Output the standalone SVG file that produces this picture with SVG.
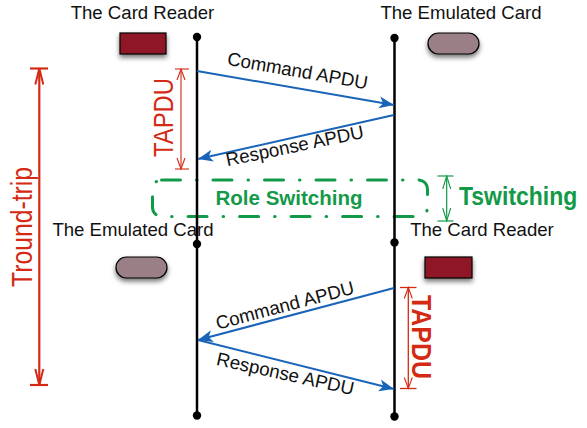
<svg xmlns="http://www.w3.org/2000/svg" width="587" height="428" viewBox="0 0 587 428">
  <style>
    .lbl { font-family: "Liberation Sans", Arial, sans-serif; font-size: 18.6px; fill: #111; }
    .msg { font-family: "Liberation Sans", Arial, sans-serif; font-size: 18.7px; fill: #111; }
    .life { stroke: #000; stroke-width: 2.5; fill: none; }
    .dot { fill: #000; }
    .arrow { stroke: #1a64b8; stroke-width: 2; fill: none; marker-end: url(#ah); }
    .reader { fill: #8e1428; stroke: #000; stroke-width: 1.2; filter: url(#sh); }
    .card { fill: #9a7f87; stroke: #000; stroke-width: 1.2; filter: url(#sh); }
    .red { stroke: #d42a14; fill: none; }
    .redtxt { font-family: "Liberation Sans", Arial, sans-serif; fill: #d42a14; }
    .green { stroke: #139a48; fill: none; }
    .greentxt { font-family: "Liberation Sans", Arial, sans-serif; font-weight: bold; fill: #139a48; }
  </style>
  <defs>
    <filter id="sh" x="-30%" y="-40%" width="160%" height="200%">
      <feDropShadow dx="0" dy="3" stdDeviation="2.5" flood-color="#000" flood-opacity="0.55"/>
    </filter>
    <marker id="ah" viewBox="-16 -7 18 14" refX="0" refY="0" markerWidth="18" markerHeight="14" markerUnits="userSpaceOnUse" orient="auto">
      <path d="M0,0 L-15,-6 L-11,0 L-15,6 Z" fill="#1a64b8"/>
    </marker>
    <marker id="vr" viewBox="-14 -6 16 12" refX="0" refY="0" markerWidth="16" markerHeight="12" markerUnits="userSpaceOnUse" orient="auto-start-reverse">
      <path d="M-11,-4 L0,0 L-11,4" fill="none" stroke="#d42a14" stroke-width="1.1"/>
    </marker>
    <marker id="vrb" viewBox="-19 -6 21 12" refX="0" refY="0" markerWidth="21" markerHeight="12" markerUnits="userSpaceOnUse" orient="auto-start-reverse">
      <path d="M-16,-4 L0,0 L-16,4" fill="none" stroke="#d42a14" stroke-width="2"/>
    </marker>
    <marker id="vg" viewBox="-16 -6 18 12" refX="0" refY="0" markerWidth="18" markerHeight="12" markerUnits="userSpaceOnUse" orient="auto-start-reverse">
      <path d="M-13,-4 L0,0 L-13,4" fill="none" stroke="#139a48" stroke-width="1.1"/>
    </marker>
  </defs>

  <rect width="587" height="428" fill="#fff"/>

  <!-- participants, first phase -->
  <g id="reader-top">
    <text class="lbl" x="142.5" y="19" text-anchor="middle">The Card Reader</text>
    <rect class="reader" x="120" y="33" width="46" height="21"/>
  </g>
  <g id="card-top">
    <text class="lbl" x="461" y="19" text-anchor="middle">The Emulated Card</text>
    <rect class="card" x="428" y="33" width="51" height="21" rx="10.5"/>
  </g>

  <!-- participants, second phase -->
  <g id="card-bottom">
    <text class="lbl" x="133" y="236" text-anchor="middle">The Emulated Card</text>
    <rect class="card" x="116" y="257" width="51" height="21" rx="10.5"/>
  </g>
  <g id="reader-bottom">
    <text class="lbl" x="482" y="236" text-anchor="middle">The Card Reader</text>
    <rect class="reader" x="425" y="257" width="47" height="21"/>
  </g>

  <!-- role switching phase -->
  <g id="role-switching">
    <rect x="152.5" y="180" width="275" height="36.5" rx="9" fill="none" stroke="#139a48" stroke-width="3" stroke-linecap="round" stroke-dasharray="19 16 0.5 16"/>
    <text class="greentxt" x="289" y="204.5" text-anchor="middle" font-size="20.5">Role Switching</text>
  </g>

  <!-- lifelines -->
  <g id="lifelines">
    <line class="life" x1="197" y1="37" x2="197" y2="415"/>
    <line class="life" x1="394.5" y1="38" x2="394.5" y2="416"/>
    <circle class="dot" cx="197" cy="37" r="4.2"/>
    <circle class="dot" cx="197" cy="244" r="4.2"/>
    <circle class="dot" cx="197" cy="415.5" r="4.2"/>
    <circle class="dot" cx="394.5" cy="38" r="4.2"/>
    <circle class="dot" cx="394.5" cy="242.5" r="4.2"/>
    <circle class="dot" cx="394.5" cy="416.5" r="4.2"/>
  </g>

  <!-- message connectors -->
  <g id="connectors">
    <line class="arrow" x1="197" y1="71" x2="394" y2="105"/>
    <line class="arrow" x1="394" y1="115" x2="198" y2="159"/>
    <line class="arrow" x1="394" y1="288" x2="198" y2="340"/>
    <line class="arrow" x1="198" y1="340" x2="394" y2="389"/>
    <text class="msg" transform="translate(296.5,77) rotate(9.9)" text-anchor="middle">Command APDU</text>
    <text class="msg" transform="translate(296,152) rotate(-11.8)" text-anchor="middle">Response APDU</text>
    <text class="msg" transform="translate(286.5,311.5) rotate(-14.8)" text-anchor="middle">Command APDU</text>
    <text class="msg" transform="translate(284,380) rotate(12.5)" text-anchor="middle">Response APDU</text>
  </g>

  <!-- timing dimensions -->
  <g id="t-apdu-top">
    <line class="red" x1="175" y1="69" x2="189" y2="69" stroke-width="1.1"/>
    <line class="red" x1="175" y1="169" x2="189" y2="169" stroke-width="1.1"/>
    <line class="red" x1="181" y1="69" x2="181" y2="169" stroke-width="1.1" marker-start="url(#vr)" marker-end="url(#vr)"/>
    <text class="redtxt" transform="translate(173,117.5) rotate(-90)" text-anchor="middle" font-size="28" textLength="79" lengthAdjust="spacingAndGlyphs">TAPDU</text>
  </g>
  <g id="t-roundtrip">
    <line class="red" x1="30" y1="68.5" x2="48" y2="68.5" stroke-width="2.2"/>
    <line class="red" x1="30" y1="385" x2="48" y2="385" stroke-width="2.2"/>
    <line class="red" x1="39.3" y1="68.5" x2="39.3" y2="385" stroke-width="2.2" marker-start="url(#vrb)" marker-end="url(#vrb)"/>
    <text class="redtxt" transform="translate(31.5,227) rotate(-90)" text-anchor="middle" font-size="29" textLength="120" lengthAdjust="spacingAndGlyphs">Tround-trip</text>
  </g>
  <g id="t-apdu-bottom">
    <line class="red" x1="400" y1="287.5" x2="416.5" y2="287.5" stroke-width="1.3"/>
    <line class="red" x1="400" y1="388.5" x2="416.5" y2="388.5" stroke-width="1.3"/>
    <line class="red" x1="408.3" y1="287.5" x2="408.3" y2="388.5" stroke-width="1.3" marker-start="url(#vr)" marker-end="url(#vr)"/>
    <text class="redtxt" transform="translate(411.5,337) rotate(90)" text-anchor="middle" font-size="28" font-weight="bold" textLength="84" lengthAdjust="spacingAndGlyphs">TAPDU</text>
  </g>
  <g id="t-switching">
    <line class="green" x1="437.5" y1="176" x2="453.5" y2="176" stroke-width="1.2"/>
    <line class="green" x1="437.5" y1="221" x2="453.5" y2="221" stroke-width="1.2"/>
    <line class="green" x1="446.7" y1="176" x2="446.7" y2="221" stroke-width="1.2" marker-start="url(#vg)" marker-end="url(#vg)"/>
    <text class="greentxt" transform="translate(459,205) scale(1,1.12)" font-size="23">Tswitching</text>
  </g>
</svg>
